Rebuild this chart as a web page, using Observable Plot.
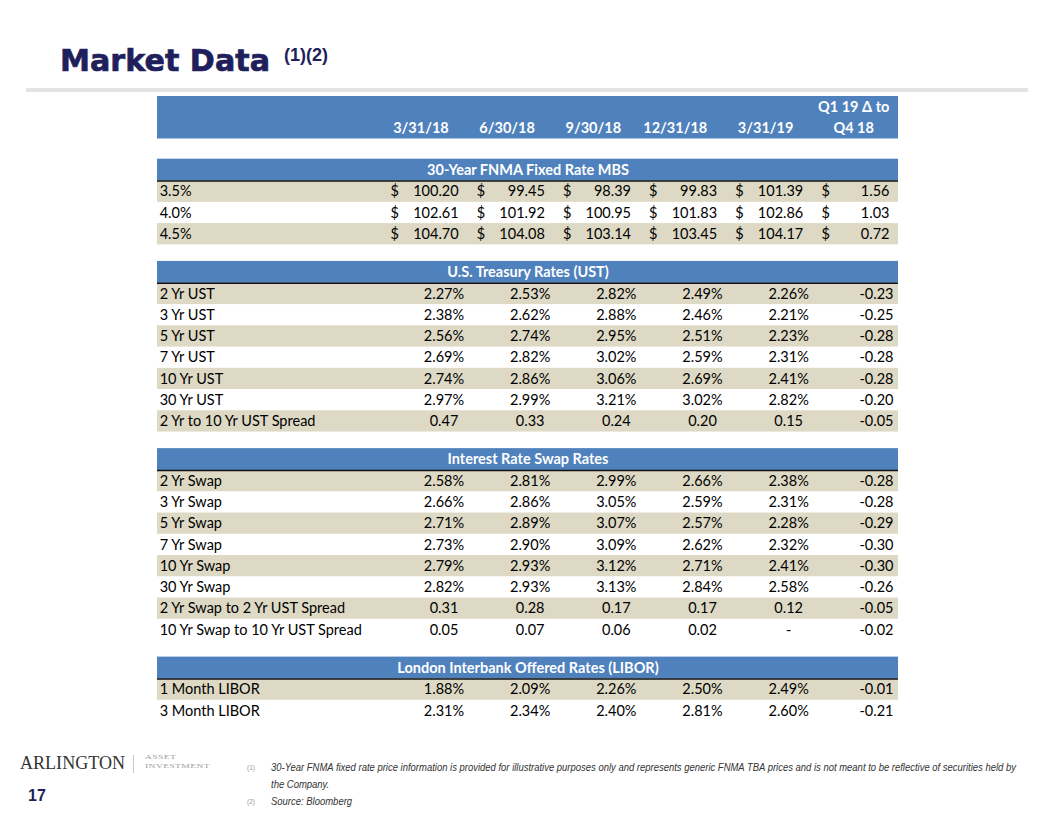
<!DOCTYPE html>
<html>
<head>
<meta charset="utf-8">
<script src="https://cdn.jsdelivr.net/npm/d3@7"></script>
<script src="https://cdn.jsdelivr.net/npm/@observablehq/plot@0.6"></script>
<style>
  html, body { margin: 0; padding: 0; background: #fff; }
  #page { position: relative; width: 1056px; height: 816px; overflow: hidden; background: #fff; }
  .abs { position: absolute; white-space: nowrap; }
  #title { left: 60px; top: 42px; font-family: "DejaVu Sans", sans-serif; font-weight: bold; font-size: 31px; color: #1f1f5c; -webkit-text-stroke: 0.7px #1f1f5c; transform-origin: 0 0; }
  #titleSup { left: 284px; top: 45px; font-family: "Liberation Sans", Arial, sans-serif; font-weight: bold; font-size: 18px; color: #1f1f5c; }
  #rule { left: 26px; top: 88px; width: 1002px; height: 4px; background: #e3e3e3; }
  #table { left: 157px; top: 96px; }
  #logo { left: 20px; top: 753px; font-family: "Liberation Serif", "Times New Roman", serif; font-size: 18px; color: #333; transform-origin: 0 0; }
  #logoSep { left: 133px; top: 755px; width: 1px; height: 18px; background: #c8c8c8; }
  .logoSub { left: 145px; font-family: "Liberation Serif", serif; font-size: 7px; line-height: 8px; height: 8px; color: #a0a0a0; letter-spacing: 0.3px; transform-origin: 0 0; }
  #pageNum { left: 28px; top: 787px; font-family: "Liberation Sans", Arial, sans-serif; font-weight: bold; font-size: 16px; color: #1f1f5c; }
  .fnMark { font-family: "Liberation Sans", Arial, sans-serif; font-size: 6.5px; color: #999; }
  .fn { font-family: "Liberation Sans Narrow", "Liberation Sans", Arial, sans-serif; font-style: italic; font-size: 10.5px; color: #333; transform-origin: 0 0; }
</style>
</head>
<body>
<div id="page">
  <div id="title" class="abs">Market Data</div>
  <div id="titleSup" class="abs">(1)(2)</div>
  <div id="rule" class="abs"></div>
  <div id="table" class="abs"></div>
  <div id="logo" class="abs">ARLINGTON</div>
  <div id="logoSep" class="abs"></div>
  <div id="logoSub1" class="abs logoSub" style="top:753px;">ASSET</div>
  <div id="logoSub2" class="abs logoSub" style="top:761.5px;">INVESTMENT</div>
  <div id="pageNum" class="abs">17</div>
  <div class="abs fnMark" style="left:247px; top:764px;">(1)</div>
  <div id="fn1" class="abs fn" style="left:271px; top:761px;">30-Year FNMA fixed rate price information is provided for illustrative purposes only and represents generic FNMA TBA prices and is not meant to be reflective of securities held by</div>
  <div id="fn1b" class="abs fn" style="left:271px; top:778px;">the Company.</div>
  <div class="abs fnMark" style="left:247px; top:798px;">(2)</div>
  <div id="fn2" class="abs fn" style="left:271px; top:795px;">Source: Bloomberg</div>
</div>
<script>
// ---------------- DATA ----------------
const dates = ["3/31/18", "6/30/18", "9/30/18", "12/31/18", "3/31/19"];
const deltaHeader = ["Q1 19 Δ to", "Q4 18"];
const sectionTitles = [
  "30-Year FNMA Fixed Rate MBS",
  "U.S. Treasury Rates (UST)",
  "Interest Rate Swap Rates",
  "London Interbank Offered Rates (LIBOR)"
];

const mbsLabels = ["3.5%", "4.0%", "4.5%"];
const mbsValues = [
  [100.20, 99.45, 98.39, 99.83, 101.39],
  [102.61, 101.92, 100.95, 101.83, 102.86],
  [104.70, 104.08, 103.14, 103.45, 104.17]
];
const mbsDelta = [1.56, 1.03, 0.72];

const ustLabels = ["2 Yr UST", "3 Yr UST", "5 Yr UST", "7 Yr UST", "10 Yr UST", "30 Yr UST", "2 Yr to 10 Yr UST Spread"];
const ustValues = [
  [2.27, 2.53, 2.82, 2.49, 2.26],
  [2.38, 2.62, 2.88, 2.46, 2.21],
  [2.56, 2.74, 2.95, 2.51, 2.23],
  [2.69, 2.82, 3.02, 2.59, 2.31],
  [2.74, 2.86, 3.06, 2.69, 2.41],
  [2.97, 2.99, 3.21, 3.02, 2.82],
  [0.47, 0.33, 0.24, 0.20, 0.15]
];
const ustDelta = [-0.23, -0.25, -0.28, -0.28, -0.28, -0.20, -0.05];

const swapLabels = ["2 Yr Swap", "3 Yr Swap", "5 Yr Swap", "7 Yr Swap", "10 Yr Swap", "30 Yr Swap", "2 Yr Swap to 2 Yr UST Spread", "10 Yr Swap to 10 Yr UST Spread"];
const swapValues = [
  [2.58, 2.81, 2.99, 2.66, 2.38],
  [2.66, 2.86, 3.05, 2.59, 2.31],
  [2.71, 2.89, 3.07, 2.57, 2.28],
  [2.73, 2.90, 3.09, 2.62, 2.32],
  [2.79, 2.93, 3.12, 2.71, 2.41],
  [2.82, 2.93, 3.13, 2.84, 2.58],
  [0.31, 0.28, 0.17, 0.17, 0.12],
  [0.05, 0.07, 0.06, 0.02, 0.00]
];
const swapDelta = [-0.28, -0.28, -0.29, -0.30, -0.30, -0.26, -0.05, -0.02];

const liborLabels = ["1 Month LIBOR", "3 Month LIBOR"];
const liborValues = [
  [1.88, 2.09, 2.26, 2.50, 2.49],
  [2.31, 2.34, 2.40, 2.81, 2.60]
];
const liborDelta = [-0.01, -0.21];

// ---------------- LAYOUT (row / column units) ----------------
const BLUE = "#4f81bd", TAN = "#ddd9c4";
const labelW = 2.66, lastW = 0.94;
const totalW = labelW + 5 + lastW;          // column units
const colLeft = i => labelW + i;
const colRight = i => (i === 5 ? totalW : labelW + i + 1);
const pxW = 741;
const unitPx = 21.25;

const sections = [
  { title: sectionTitles[0], labels: mbsLabels, values: mbsValues, delta: mbsDelta, kind: "usd" },
  { title: sectionTitles[1], labels: ustLabels, values: ustValues, delta: ustDelta, kind: "pct" },
  { title: sectionTitles[2], labels: swapLabels, values: swapValues, delta: swapDelta, kind: "pct" },
  { title: sectionTitles[3], labels: liborLabels, values: liborValues, delta: liborDelta, kind: "pct" }
];

const bands = [];   // blue bands
const stripes = []; // tan rows
const cells = [];   // text
let y = 0;
bands.push({ y1: 0, y2: 2, header: true });
deltaHeader.forEach((t, k) => cells.push({ x: colLeft(5) + 0.42, y: k + 0.5, text: t, anchor: "middle", head: true }));
dates.forEach((t, i) => cells.push({ x: colRight(i) - 0.28, y: 1.5, text: t, anchor: "end", head: true }));
y = 2;
sections.forEach((s, si) => {
  y += si === 0 ? 0.95 : 0.78;
  bands.push({ y1: y, y2: y + 1.03 });
  cells.push({ x: totalW / 2, y: y + 0.515, text: s.title, anchor: "middle", head: true });
  y += 1.03;
  s.labels.forEach((lab, r) => {
    const y1 = y, yc = y + 0.5;
    if (r % 2 === 0) stripes.push({ y1, y2: y + 1 });
    cells.push({ x: 0.025, y: yc, text: lab, anchor: "start" });
    const spread = lab.includes("Spread");
    s.values[r].forEach((v, i) => {
      if (s.kind === "usd") {
        cells.push({ x: colLeft(i) + 0.045, y: yc, text: "$", anchor: "start" });
        cells.push({ x: colRight(i) - 0.165, y: yc, text: v.toFixed(2), anchor: "end" });
      } else {
        const t = v === 0 ? "-" : spread ? v.toFixed(2) : v.toFixed(2) + "%";
        cells.push({ x: colLeft(i) + 0.665, y: yc, text: t, anchor: "middle" });
      }
    });
    const d = s.delta[r];
    if (s.kind === "usd") {
      cells.push({ x: colLeft(5) + 0.045, y: yc, text: "$", anchor: "start" });
      cells.push({ x: totalW - 0.105, y: yc, text: d.toFixed(2), anchor: "end" });
    } else {
      cells.push({ x: totalW - 0.058, y: yc, text: d.toFixed(2), anchor: "end" });
    }
    y += 1;
  });
});
const totalH = y;
const pxH = Math.round(totalH * unitPx);

const font = "Lato, 'Noto Sans', sans-serif";
const textMark = (anchor, head) => Plot.text(cells.filter(c => c.anchor === anchor && !!c.head === head), {
  x: "x", y: "y", text: "text", textAnchor: anchor,
  fill: head ? "white" : "black", fontWeight: head ? "bold" : "normal",
  fontSize: 14.5, fontFamily: font
});

const chart = Plot.plot({
  width: pxW, height: pxH,
  margin: 0,
  x: { domain: [0, totalW], range: [0, pxW], axis: null },
  y: { domain: [0, totalH], range: [0, pxH], axis: null },
  style: { fontFamily: font, fontSize: "14.5px", background: "white", overflow: "visible" },
  marks: [
    Plot.rect(stripes, { x1: () => 0, x2: () => totalW, y1: "y1", y2: "y2", fill: TAN }),
    Plot.rect(bands, { x1: () => 0, x2: () => totalW, y1: "y1", y2: "y2", fill: BLUE }),
    Plot.ruleY(bands.filter(b => !b.header), { y: "y2", x1: () => 0, x2: () => totalW, stroke: "#111", strokeWidth: 1.5 }),
    textMark("start", false), textMark("middle", false), textMark("end", false),
    textMark("start", true), textMark("middle", true), textMark("end", true)
  ]
});
document.getElementById("table").appendChild(chart);

// fit text widths to reference extents
function fit(id, w) {
  const el = document.getElementById(id);
  const cur = el.getBoundingClientRect().width;
  el.style.transform = `scaleX(${w / cur})`;
  return w / cur;
}
fit("title", 210);
fit("logo", 105);
const subScale = fit("logoSub2", 65);
document.getElementById("logoSub1").style.transform = `scaleX(${subScale})`;
fit("fn1", 745);
const fnScale = 745 / (document.getElementById("fn1").scrollWidth);
["fn1b", "fn2"].forEach(id => document.getElementById(id).style.transform = `scaleX(${fnScale})`);
</script>
</body>
</html>
